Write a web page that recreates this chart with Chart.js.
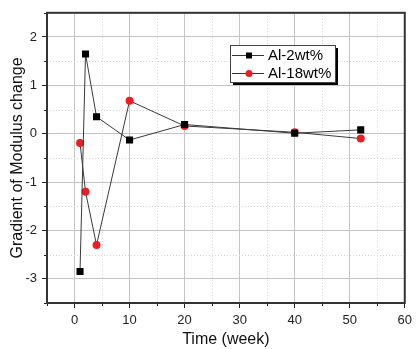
<!DOCTYPE html>
<html>
<head>
<meta charset="utf-8">
<script src="https://cdn.jsdelivr.net/npm/chart.js@4.4.1/dist/chart.umd.min.js"></script>
<style>
  html, body { margin: 0; padding: 0; background: #fff; }
  #wrap { width: 417px; height: 349px; position: relative; }
</style>
</head>
<body>
<div id="wrap"><canvas id="modChart"></canvas></div>
<script>
const weeks = [1, 2, 4, 10, 20, 40, 52];
const al2 = [-2.85, 1.65, 0.35, -0.13, 0.19, 0.01, 0.08];
const al18 = [-0.19, -1.2, -2.3, 0.68, 0.16, 0.03, -0.1];
const seriesNames = ['Al-2wt%', 'Al-18wt%'];
const xTitle = 'Time (week)';
const yTitle = 'Gradient of Modulus change';

const font = 'Liberation Sans, Arial, sans-serif';

function toPoints(ys) {
    return weeks.map((w, i) => ({ x: w, y: ys[i] }));
}

// frame, minor grid/ticks and the boxed legend
const framePlugin = {
    id: 'frame',
    beforeDatasetsDraw(c) {
        const a = c.chartArea, ctx = c.ctx;
        const xs = c.scales.x, ys = c.scales.y;
        ctx.save();
        ctx.strokeStyle = '#d6d6d6';
        ctx.lineWidth = 1;
        ctx.setLineDash([1, 2]);
        for (let v = -5; v <= 60; v += 10) {
            const px = Math.round(xs.getPixelForValue(v)) + 0.5;
            ctx.beginPath(); ctx.moveTo(px, a.top); ctx.lineTo(px, a.bottom); ctx.stroke();
        }
        for (let v = -3.5; v <= 2.5; v += 1) {
            const py = Math.round(ys.getPixelForValue(v)) + 0.5;
            ctx.beginPath(); ctx.moveTo(a.left, py); ctx.lineTo(a.right, py); ctx.stroke();
        }
        ctx.restore();
    },
    afterDraw(c) {
        const a = c.chartArea, ctx = c.ctx;
        const xs = c.scales.x, ys = c.scales.y;
        ctx.save();
        // minor ticks
        ctx.strokeStyle = '#222';
        ctx.lineWidth = 1;
        for (let v = -5; v <= 60; v += 10) {
            const px = Math.round(xs.getPixelForValue(v)) + 0.5;
            ctx.beginPath(); ctx.moveTo(px, a.bottom); ctx.lineTo(px, a.bottom + 3); ctx.stroke();
        }
        for (let v = -3.5; v <= 2.5; v += 1) {
            const py = Math.round(ys.getPixelForValue(v)) + 0.5;
            ctx.beginPath(); ctx.moveTo(a.left, py); ctx.lineTo(a.left - 3, py); ctx.stroke();
        }
        // box
        ctx.strokeStyle = '#333';
        ctx.lineWidth = 2;
        ctx.strokeRect(a.left, a.top, a.right - a.left, a.bottom - a.top);

        // legend
        const lx = 230, ly = 45, lw = 105, lh = 37;
        ctx.fillStyle = '#000';
        ctx.fillRect(lx + 3, ly + 3, lw, lh);
        ctx.fillStyle = '#fff';
        ctx.fillRect(lx, ly, lw, lh);
        ctx.strokeStyle = '#444';
        ctx.lineWidth = 1;
        ctx.strokeRect(lx + 0.5, ly + 0.5, lw, lh);
        c.data.datasets.forEach((ds, i) => {
            const cy = ly + 10 + i * 18;
            ctx.strokeStyle = '#333';
            ctx.beginPath(); ctx.moveTo(lx + 2, cy + 0.5); ctx.lineTo(lx + 34, cy + 0.5); ctx.stroke();
            ctx.fillStyle = ds.backgroundColor;
            if (ds.pointStyle === 'rect') {
                ctx.fillRect(lx + 16, cy - 2.5, 6, 6);
            } else {
                ctx.beginPath(); ctx.arc(lx + 19, cy + 0.5, 3.5, 0, Math.PI * 2); ctx.fill();
            }
            ctx.fillStyle = '#000';
            ctx.font = '15px ' + font;
            ctx.textBaseline = 'middle';
            ctx.fillText(ds.label, lx + 38, cy + 1);
        });
        ctx.restore();
    }
};

new Chart(document.getElementById('modChart'), {
    type: 'scatter',
    data: {
        datasets: [{
            label: seriesNames[0],
            data: toPoints(al2),
            showLine: true,
            borderColor: '#3a3a3a',
            borderWidth: 1,
            backgroundColor: '#000',
            pointStyle: 'rect',
            pointRadius: 5,
            pointBorderWidth: 0
        }, {
            label: seriesNames[1],
            data: toPoints(al18),
            showLine: true,
            borderColor: '#3a3a3a',
            borderWidth: 1,
            backgroundColor: '#ee1c25',
            pointStyle: 'circle',
            pointRadius: 4,
            pointBorderWidth: 0
        }]
    },
    options: {
        responsive: true,
        maintainAspectRatio: false,
        animation: false,
        layout: { padding: { top: 9, right: 7, left: 0, bottom: 0 } },
        plugins: { legend: { display: false }, tooltip: { enabled: false } },
        scales: {
            x: {
                min: -5, max: 60,
                afterBuildTicks: s => { s.ticks = [0, 10, 20, 30, 40, 50, 60].map(v => ({ value: v })); },
                afterFit: s => { s.height = 46; },
                grid: { color: '#c4c4c4', tickColor: '#222', tickLength: 5 },
                border: { display: false },
                ticks: { color: '#222', font: { family: font, size: 13 }, padding: 5, maxRotation: 0 },
                title: { display: true, text: xTitle, color: '#111', font: { family: font, size: 16 }, padding: { top: 0, bottom: 0 } }
            },
            y: {
                min: -3.5, max: 2.5,
                afterBuildTicks: s => { s.ticks = [-3, -2, -1, 0, 1, 2].map(v => ({ value: v })); },
                afterFit: s => { s.width = 47; },
                grid: { color: '#c4c4c4', tickColor: '#222', tickLength: 5 },
                border: { display: false },
                ticks: { color: '#222', font: { family: font, size: 13 }, padding: 5 },
                title: { display: true, text: yTitle, color: '#111', font: { family: font, size: 16 }, padding: { top: 8, bottom: 0 } }
            }
        }
    },
    plugins: [framePlugin]
});
</script>
</body>
</html>
